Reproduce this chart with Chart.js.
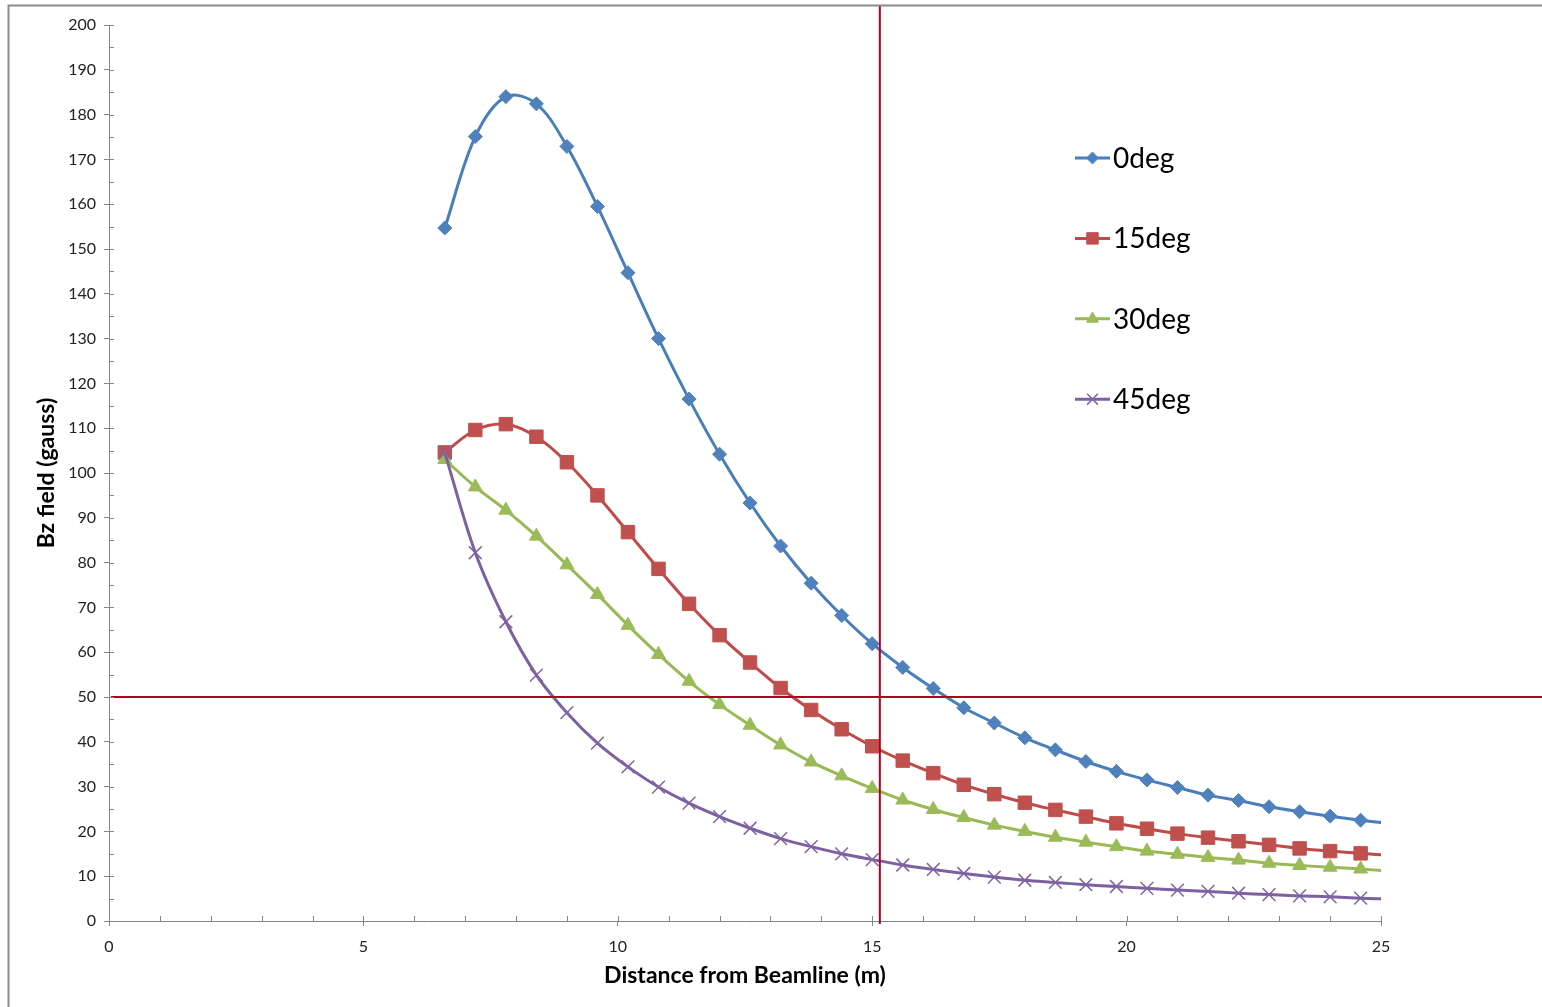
<!DOCTYPE html>
<html>
<head>
<meta charset="utf-8">
<script src="https://cdn.jsdelivr.net/npm/chart.js@4.4.0/dist/chart.umd.min.js"></script>
<style>
  html, body { margin: 0; padding: 0; background: #ffffff; }
  #wrap { width: 1542px; height: 1007px; }
</style>
</head>
<body>
<div id="wrap"><canvas id="bz-chart" width="1542" height="1007"></canvas></div>
<script>
// distance from beamline (m) — last point sits just past the axis end
const distance = [6.6, 7.2, 7.8, 8.4, 9.0, 9.6, 10.2, 10.8, 11.4, 12.0, 12.6, 13.2, 13.8, 14.4, 15.0, 15.6,
	16.2, 16.8, 17.4, 18.0, 18.6, 19.2, 19.8, 20.4, 21.0, 21.6, 22.2, 22.8, 23.4, 24.0, 24.6, 25.2];

const bz0deg = [154.7, 175.1, 184.0, 182.4, 172.9, 159.5, 144.7, 130.0, 116.5, 104.2, 93.3, 83.7, 75.4, 68.2, 61.9, 56.6,
	51.9, 47.6, 44.2, 40.9, 38.2, 35.6, 33.4, 31.5, 29.8, 28.1, 26.9, 25.5, 24.4, 23.4, 22.5, 21.7];
const bz15deg = [104.6, 109.6, 110.9, 108.1, 102.4, 95.0, 86.8, 78.6, 70.8, 63.8, 57.7, 52.0, 47.1, 42.8, 39.0, 35.8,
	33.0, 30.4, 28.3, 26.4, 24.8, 23.3, 21.8, 20.6, 19.5, 18.6, 17.8, 17.0, 16.2, 15.6, 15.1, 14.6];
const bz30deg = [103.0, 96.9, 91.7, 85.9, 79.5, 72.9, 66.0, 59.5, 53.5, 48.3, 43.7, 39.3, 35.5, 32.4, 29.6, 27.0,
	24.9, 23.1, 21.4, 20.0, 18.7, 17.6, 16.6, 15.6, 14.9, 14.2, 13.6, 12.9, 12.4, 12.0, 11.6, 11.1];
const bz45deg = [104.5, 82.2, 66.8, 54.9, 46.5, 39.7, 34.4, 29.9, 26.3, 23.3, 20.7, 18.4, 16.6, 15.0, 13.7, 12.5,
	11.5, 10.6, 9.8, 9.1, 8.6, 8.1, 7.7, 7.3, 6.9, 6.6, 6.2, 5.9, 5.6, 5.4, 5.1, 4.9];

const seriesNames = ["0deg", "15deg", "30deg", "45deg"];

// reference cut lines
const limitDistance = 15.15;
const limitField = 50;

const axisGrey = "#868686";
const refRed = "#b3001e";

function toPoints(ys) {
	return distance.map((d, i) => ({ x: d, y: ys[i] }));
}

const styles = [
	{ line: "#4a7ebb", fill: "#4f81bd", pointStyle: "rectRot", radius: 7, pointBorderWidth: 1 },
	{ line: "#be4b48", fill: "#c0504d", pointStyle: "rect", radius: 9.5, pointBorderWidth: 1 },
	{ line: "#98b954", fill: "#9bbb59", pointStyle: "triangle", radius: 8, pointBorderWidth: 1 },
	{ line: "#7d60a0", fill: "#8064a2", pointStyle: "crossRot", radius: 9, pointBorderWidth: 1.5 },
];

const allSeries = [bz0deg, bz15deg, bz30deg, bz45deg];

const datasets = allSeries.map((ys, i) => ({
	label: seriesNames[i],
	data: toPoints(ys),
	borderColor: styles[i].line,
	borderWidth: 3,
	tension: 0.35,
	pointStyle: styles[i].pointStyle,
	pointRadius: styles[i].radius,
	pointBackgroundColor: styles[i].fill,
	pointBorderColor: styles[i].fill,
	pointBorderWidth: styles[i].pointBorderWidth,
	order: 4 - i,
}));

// outer frame of the chart (left and top edges are visible)
const framePlugin = {
	id: "frame",
	afterDraw(chart) {
		const ctx = chart.ctx;
		ctx.save();
		ctx.strokeStyle = "#8a8a8a";
		ctx.lineWidth = 2;
		ctx.beginPath();
		ctx.moveTo(8.5, chart.height);
		ctx.lineTo(8.5, 5.5);
		ctx.lineTo(chart.width, 5.5);
		ctx.stroke();
		ctx.restore();
	},
};

// inner minor/major tick marks like Excel's "cross" major ticks
const innerTicks = {
	id: "innerTicks",
	afterDraw(chart) {
		const { ctx, chartArea: a, scales: { x, y } } = chart;
		ctx.save();
		ctx.strokeStyle = axisGrey;
		ctx.lineWidth = 1;
		ctx.beginPath();
		for (let v = x.min; v <= x.max; v += 1) {
			const px = Math.round(x.getPixelForValue(v)) + 0.5;
			ctx.moveTo(px, a.bottom);
			ctx.lineTo(px, a.bottom - 5);
		}
		for (let v = y.min; v <= y.max; v += 5) {
			const py = Math.round(y.getPixelForValue(v)) + 0.5;
			ctx.moveTo(a.left, py);
			ctx.lineTo(a.left + 5, py);
		}
		ctx.stroke();
		ctx.restore();
	},
};

// red cut lines: vertical from the frame top to just under the axis,
// horizontal from the y axis out to the right edge
const cutLines = {
	id: "cutLines",
	afterDatasetsDraw(chart) {
		const { ctx, chartArea: a, scales: { x, y } } = chart;
		const px = x.getPixelForValue(limitDistance);
		const py = y.getPixelForValue(limitField);
		ctx.save();
		ctx.strokeStyle = refRed;
		ctx.lineWidth = 2;
		ctx.beginPath();
		ctx.moveTo(px, 5);
		ctx.lineTo(px, a.bottom + 3);
		ctx.moveTo(a.left + 2, py);
		ctx.lineTo(chart.width, py);
		ctx.stroke();
		ctx.restore();
	},
};

// legend drawn inside the plot, Excel style (line + marker + label)
const sideLegend = {
	id: "sideLegend",
	afterDraw(chart) {
		const ctx = chart.ctx;
		const left = 1075, top = 158, gap = 80.4;
		ctx.save();
		chart.data.datasets.forEach((ds, i) => {
			const cy = top + i * gap;
			ctx.strokeStyle = ds.borderColor;
			ctx.lineWidth = 3;
			ctx.beginPath();
			ctx.moveTo(left, cy);
			ctx.lineTo(left + 35, cy);
			ctx.stroke();
			ctx.fillStyle = ds.pointBackgroundColor;
			ctx.strokeStyle = ds.pointBorderColor;
			ctx.lineWidth = ds.pointBorderWidth;
			Chart.helpers.drawPoint(ctx, {
				pointStyle: ds.pointStyle,
				radius: ds.pointRadius * 0.85,
				rotation: 0,
				borderWidth: ds.pointBorderWidth,
			}, left + 17.5, cy);
			ctx.fillStyle = "#000000";
			ctx.font = "28px Lato";
			ctx.textBaseline = "middle";
			ctx.fillText(ds.label, left + 38, cy + 1);
		});
		ctx.restore();
	},
};

const ctx = document.getElementById("bz-chart").getContext("2d");
Chart.defaults.font.family = "Lato";
Chart.defaults.color = "#222222";

const bzChart = new Chart(ctx, {
	type: "line",
	data: { datasets: datasets },
	options: {
		responsive: false,
		animation: false,
		layout: { padding: { left: 0, top: 25, right: 161, bottom: 0 } },
		plugins: {
			legend: { display: false },
			tooltip: { enabled: false },
			title: { display: false },
		},
		scales: {
			x: {
				type: "linear",
				min: 0,
				max: 25,
				ticks: { stepSize: 5, padding: 11, font: { size: 16 }, color: "#222222" },
				grid: { drawOnChartArea: false, tickLength: 5, color: axisGrey },
				border: { color: axisGrey, width: 1 },
				title: {
					display: true,
					text: "Distance from Beamline (m)",
					font: { size: 23, weight: "bold" },
					color: "#000000",
					padding: { top: 0, bottom: 18 },
				},
				afterFit(scale) { scale.height = 86; },
			},
			y: {
				min: 0,
				max: 200,
				ticks: { stepSize: 10, padding: 8, font: { size: 16 }, color: "#222222" },
				grid: { drawOnChartArea: false, tickLength: 5, color: axisGrey },
				border: { color: axisGrey, width: 1 },
				title: {
					display: true,
					text: "Bz field (gauss)",
					font: { size: 23, weight: "bold" },
					color: "#000000",
					padding: { top: 33, bottom: 0 },
				},
				afterFit(scale) { scale.width = 109; },
			},
		},
	},
	plugins: [framePlugin, innerTicks, cutLines, sideLegend],
});
</script>
</body>
</html>
